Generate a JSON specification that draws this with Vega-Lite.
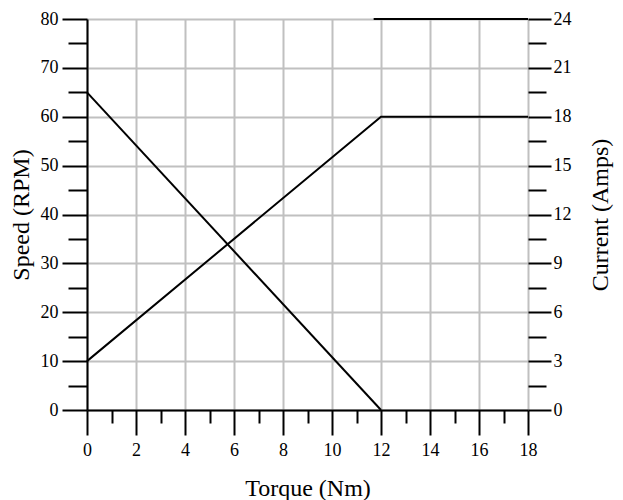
{
  "$schema": "https://vega.github.io/schema/vega-lite/v6.json",
  "width": 441,
  "height": 391,
  "autosize": "none",
  "padding": {"left": 87, "top": 19, "right": 95, "bottom": 90},
  "background": "white",
  "datasets": {
    "speed": [{"torque": 0, "speed": 65}, {"torque": 12, "speed": 0}],
    "current": [{"torque": 0, "amps": 3}, {"torque": 12, "amps": 18}, {"torque": 18, "amps": 18}],
    "limit": [{"torque": 11.7, "amps": 24}, {"torque": 18, "amps": 24}]
  },
  "config": {
    "view": {"stroke": null},
    "axis": {
      "labelFont": "Liberation Serif",
      "labelFontSize": 18,
      "labelColor": "black",
      "titleFont": "Liberation Serif",
      "titleFontSize": 24,
      "titleFontWeight": "normal",
      "titleColor": "black",
      "tickColor": "black",
      "tickWidth": 2,
      "domainColor": "black",
      "domainWidth": 2,
      "gridColor": "#c0c0c0",
      "gridWidth": 2,
      "gridOpacity": 1,
      "labelFlush": false,
      "labelOverlap": false
    }
  },
  "resolve": {"scale": {"y": "independent"}, "axis": {"x": "independent", "y": "independent"}},
  "layer": [
    {
      "data": {"name": "speed"},
      "mark": {"type": "line", "color": "black", "strokeWidth": 2},
      "encoding": {
        "x": {"field": "torque", "type": "quantitative",
          "scale": {"domain": [0, 18], "nice": false, "zero": false},
          "axis": {"orient": "bottom", "values": [0, 2, 4, 6, 8, 10, 12, 14, 16, 18], "tickSize": 25, "labelPadding": 6, "grid": true, "title": "Torque (Nm)", "titlePadding": 17}},
        "y": {"field": "speed", "type": "quantitative",
          "scale": {"domain": [0, 80], "nice": false},
          "axis": {"orient": "left", "values": [0, 10, 20, 30, 40, 50, 60, 70, 80], "tickSize": 25, "labelPadding": 4, "grid": true, "title": "Speed (RPM)", "titlePadding": 7}}
      }
    },
    {
      "data": {"name": "speed"},
      "mark": {"type": "line", "opacity": 0},
      "encoding": {
        "x": {"field": "torque", "type": "quantitative",
          "scale": {"domain": [0, 18], "nice": false, "zero": false},
          "axis": {"orient": "bottom", "values": [1, 3, 5, 7, 9, 11, 13, 15, 17], "tickSize": 13, "labels": false, "grid": false, "domain": false, "title": null}},
        "y": {"field": "speed", "type": "quantitative",
          "scale": {"domain": [0, 80], "nice": false},
          "axis": {"orient": "left", "values": [5, 15, 25, 35, 45, 55, 65, 75], "tickSize": 19, "labels": false, "grid": false, "domain": false, "title": null}}
      }
    },
    {
      "data": {"name": "current"},
      "mark": {"type": "line", "color": "black", "strokeWidth": 2},
      "encoding": {
        "x": {"field": "torque", "type": "quantitative",
          "scale": {"domain": [0, 18], "nice": false, "zero": false}, "axis": null},
        "y": {"field": "amps", "type": "quantitative",
          "scale": {"domain": [0, 24], "nice": false},
          "axis": {"orient": "right", "values": [0, 3, 6, 9, 12, 15, 18, 21, 24], "tickSize": 23, "labelPadding": 2, "grid": false, "domain": false, "title": "Current (Amps)", "titleAngle": 270, "titleBaseline": "top", "titlePadding": 17}}
      }
    },
    {
      "data": {"name": "current"},
      "mark": {"type": "line", "opacity": 0},
      "encoding": {
        "x": {"field": "torque", "type": "quantitative",
          "scale": {"domain": [0, 18], "nice": false, "zero": false}, "axis": null},
        "y": {"field": "amps", "type": "quantitative",
          "scale": {"domain": [0, 24], "nice": false},
          "axis": {"orient": "right", "values": [1.5, 4.5, 7.5, 10.5, 13.5, 16.5, 19.5, 22.5], "tickSize": 18, "labels": false, "grid": false, "domain": false, "title": null}}
      }
    },
    {
      "data": {"name": "limit"},
      "mark": {"type": "line", "color": "black", "strokeWidth": 2},
      "encoding": {
        "x": {"field": "torque", "type": "quantitative",
          "scale": {"domain": [0, 18], "nice": false, "zero": false}, "axis": null},
        "y": {"field": "amps", "type": "quantitative",
          "scale": {"domain": [0, 24], "nice": false}, "axis": null}
      }
    }
  ]
}
